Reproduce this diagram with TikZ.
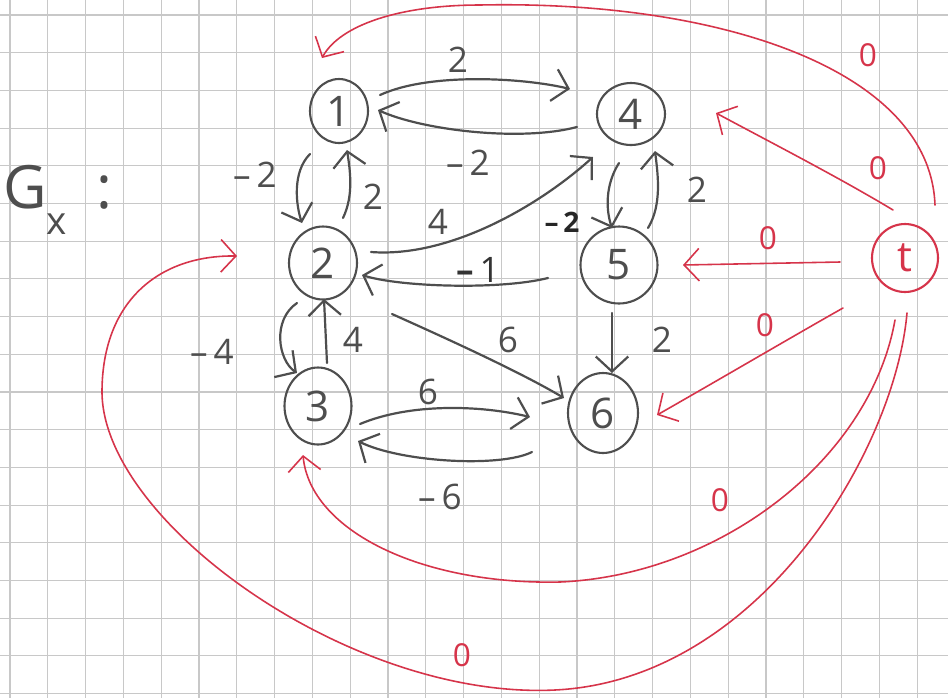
\documentclass[tikz,border=0pt]{standalone}
\usepackage{fontspec}
\setmainfont{Open Sans}
\usetikzlibrary{shapes.geometric,arrows.meta,calc}
\definecolor{pencil}{RGB}{78,78,78}
\definecolor{redpen}{RGB}{214,52,74}
\definecolor{gridc}{RGB}{200,200,200}
\begin{document}
\begin{tikzpicture}[x=0.02cm,y=-0.02cm,
  vert/.style={draw=pencil, line width=1.2pt, ellipse, inner sep=0pt, text=pencil, font=\fontsize{24}{26}\selectfont},
  tvert/.style={vert, draw=redpen, text=redpen},
  pen/.style={draw=pencil, line width=1.25pt, line cap=round, -{Straight Barb[length=3mm,width=6.5mm]}},
  rpen/.style={draw=redpen, line width=0.9pt, line cap=round, -{Straight Barb[length=3mm,width=6.5mm]}},
  wl/.style={text=pencil, font=\fontsize{20}{22}\selectfont, inner sep=0pt},
  rl/.style={text=redpen, font=\fontsize{18}{20}\selectfont, inner sep=0pt},
  gridline/.style={draw=gridc, line width=0.6pt}
]
\useasboundingbox (0,0) rectangle (948,698);
\fill[white] (0,0) rectangle (948,698);
\foreach \i in {0,...,24} \draw[gridline] ({10+37.8*\i},0) -- ({10+37.8*\i},698);
\foreach \j in {0,...,18} \draw[gridline] (0,{15+37.7*\j}) -- (948,{15+37.7*\j});

% title
\node[text=pencil, font=\fontsize{34}{36}\selectfont, inner sep=0pt] (gx) at (58,200)
  {G\raisebox{-0.8ex}{\fontsize{22}{24}\selectfont x}\hspace{0.5em}:};

% vertices
\node[vert, minimum width=11.6mm, minimum height=12.8mm] (n1) at (339,111) {1};
\node[vert, minimum width=13.6mm, minimum height=12.4mm] (n4) at (631,114) {4};
\node[vert, minimum width=13.6mm, minimum height=14.6mm] (n2) at (323,263) {2};
\node[vert, minimum width=15.4mm, minimum height=15.4mm] (n5) at (619,265) {5};
\node[vert, minimum width=13.4mm, minimum height=15.4mm] (n3) at (318,406) {3};
\node[vert, minimum width=14mm, minimum height=16mm] (n6) at (603,413) {6};
\node[tvert, minimum width=13.2mm, minimum height=13.6mm] (nt) at (905,258) {t};

% pencil edges
\draw[pen] ($(n1)+(41,-16)$) .. controls (430,72) and (525,78) .. ($(n4)+(-61,-25)$);
\node[wl] (l1) at (458,60) {2};
\draw[pen] ($(n4)+(-54,13)$) .. controls (520,142) and (422,130) .. ($(n1)+(39,-1)$);
\node[wl] (l2) at (468,163) {\textendash\,2};
\draw[pen] ($(n1)+(-29,43)$) .. controls (292,172) and (296,205) .. ($(n2)+(-21,-40)$);
\node[wl] (l3) at (255,175) {\textendash\,2};
\draw[pen] ($(n2)+(20,-45)$) .. controls (354,195) and (350,170) .. ($(n1)+(8,39)$);
\node[wl] (l4) at (373,197) {2};
\draw[pen] ($(n2)+(48,-11)$) .. controls (450,258) and (540,205) .. ($(n4)+(-38,43)$);
\node[wl] (l5) at (438,222) {4};
\draw[pen] ($(n4)+(-12,49)$) .. controls (605,185) and (606,210) .. ($(n5)+(-7,-37)$);
\node[wl, text=black!85, font=\bfseries\fontsize{16}{18}\selectfont] (l6) at (562,222) {\textendash\,2};
\draw[pen] ($(n5)+(29,-37)$) .. controls (662,205) and (658,175) .. ($(n4)+(24,37)$);
\node[wl] (l7) at (697,190) {2};
\draw[pen] ($(n5)+(-71,13)$) .. controls (500,290) and (400,287) .. ($(n2)+(39,12)$);
\node[wl, text=black!80] (l8) at (478,270) {\textbf{\textendash}\,1};
\draw[pen] ($(n2)+(69,51)$) .. controls (450,340) and (520,372) .. ($(n6)+(-39,-15)$);
\node[wl] (l9) at (508,340) {6};
\draw[pen] ($(n5)+(-7,48)$) -- ($(n6)+(9,-40)$);
\node[wl] (l10) at (662,340) {2};
\draw[pen] ($(n2)+(-26,40)$) .. controls (272,320) and (278,360) .. ($(n3)+(-21,-33)$);
\node[wl] (l11) at (212,352) {\textendash\,4};
\draw[pen] ($(n3)+(9,-43)$) -- ($(n2)+(1,36)$);
\node[wl] (l12) at (353,340) {4};
\draw[pen] ($(n3)+(42,18)$) .. controls (410,403) and (480,405) .. ($(n6)+(-73,4)$);
\node[wl] (l13) at (428,392) {6};
\draw[pen] ($(n6)+(-71,39)$) .. controls (500,468) and (400,462) .. ($(n3)+(40,35)$);
\node[wl] (l14) at (440,497) {\textendash\,6};

% red edges from t
\draw[rpen] ($(nt)+(30,-53)$) .. controls (930,70) and (720,0) .. (480,5)
  .. controls (400,5) and (340,25) .. ($(n1)+(-17,-53)$);
\node[rl] (r1) at (868,55) {0};
\draw[rpen] ($(nt)+(-12,-48)$) .. controls (840,178) and (770,142) .. ($(n4)+(85,-1)$);
\node[rl] (r2) at (878,168) {0};
\draw[rpen] ($(nt)+(-65,4)$) -- ($(n5)+(64,0)$);
\node[rl] (r3) at (768,238) {0};
\draw[rpen] ($(nt)+(-62,50)$) .. controls (790,338) and (715,382) .. ($(n6)+(54,2)$);
\node[rl] (r4) at (765,325) {0};
\draw[rpen] ($(nt)+(-10,62)$) .. controls (870,460) and (720,575) .. (560,582)
  .. controls (420,585) and (310,530) .. ($(n3)+(-15,49)$);
\node[rl] (r5) at (720,500) {0};
\draw[rpen] ($(nt)+(2,55)$) .. controls (895,450) and (760,680) .. (555,690)
  .. controls (350,700) and (100,520) .. (102,390)
  .. controls (103,300) and (160,255) .. ($(n2)+(-86,-7)$);
\node[rl] (r6) at (462,655) {0};
\end{tikzpicture}
\end{document}
